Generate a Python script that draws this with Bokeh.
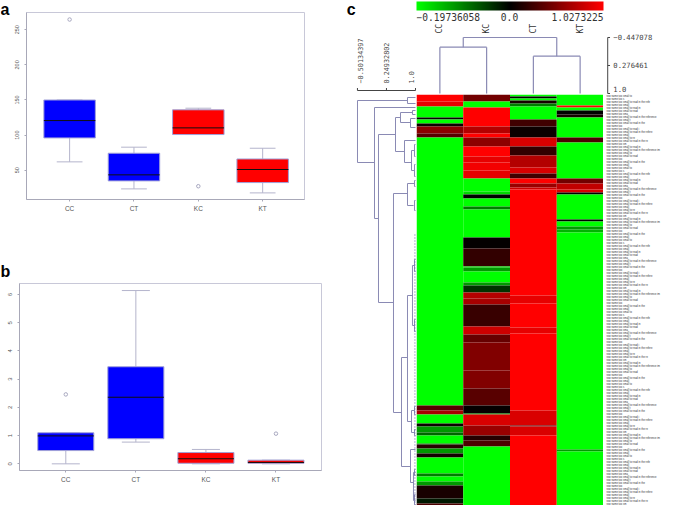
from bokeh.embed import file_html
from bokeh.resources import INLINE
from bokeh.plotting import figure
from bokeh.layouts import row, column
from bokeh.models import Range1d, FixedTicker, LinearColorMapper, ColorBar, Label, ColumnDataSource
from bokeh.core.properties import value
from bokeh.transform import transform

# ---------- panels a and b: box statistics ----------
GROUPS = ["CC", "CT", "KC", "KT"]
GROUP_POS = [1, 2, 3, 4]
GROUP_COLORS = ["#0000ff", "#0000ff", "#ff0000", "#ff0000"]

A_LOW = [61.9, 23.4, 100.8, 17.7]
A_Q1 = [96, 34.8, 100.8, 32.4]
A_MED = [120.7, 43.4, 110.3, 51]
A_Q3 = [150, 74.2, 136, 66]
A_HIGH = [150, 82.8, 138.3, 81.3]
A_OUT_X = [1, 3]
A_OUT_Y = [264.6, 27.2]
A_TICKS = [50, 100, 150, 200, 250]

B_LOW = [0, 0.77, 0, 0]
B_Q1 = [0.47, 0.89, 0.02, 0.02]
B_MED = [0.99, 2.36, 0.18, 0.05]
B_Q3 = [1.10, 3.44, 0.40, 0.13]
B_HIGH = [1.10, 6.14, 0.51, 0.13]
B_OUT_X = [1, 4]
B_OUT_Y = [2.46, 1.07]
B_TICKS = [0, 1, 2, 3, 4, 5, 6]

# ---------- panel c: heat map, colour position -1 (green) .. 0 (black) .. 1 (red) ----------
COLUMNS = ["CC", "KC", "CT", "KT"]
CC_ENDS = [7, 12, 23, 25, 29, 32, 39, 43, 311, 316, 320, 329, 332, 338, 341, 349, 350, 354, 359, 363, 379, 382, 387, 391, 404, 409, 411]
CC_VALS = [1, .9, -1, .02, -1, .05, .55, .35, -1, .35, .65, -1, .05, -.6, -.4, -1, -.5, .15, -.6, .08, -1, -.5, -1, -.6, .1, -.1, .3]
KC_ENDS = [7, 13, 32, 39, 43, 52, 62, 68, 76, 84, 97, 100, 104, 112, 115, 143, 154, 172, 173, 177, 188, 191, 198, 204, 210, 232, 240, 248, 276, 294, 311, 319, 320, 331, 341, 346, 352, 411]
KC_VALS = [.45, -1, 1, .7, 1, .55, 1, .9, .95, .9, -1, -.85, 0, -1, -.5, -1, .02, .2, -1, -.6, -1, -.6, -.2, .7, .65, .22, .8, .4, .5, .5, .35, .02, -.6, .85, .6, .15, .3, -1]
CT_ENDS = [2, 4, 6, 9, 12, 25, 32, 43, 52, 61, 73, 79, 84, 89, 93, 95, 201, 209, 233, 239, 316, 331, 332, 341, 411]
CT_VALS = [-1, 0, -1, .1, -.5, -1, .25, .05, .85, .2, .7, .85, .25, 1, .6, .8, 1, .9, 1, .9, 1, .85, .3, .85, 1]
KT_ENDS = [11, 13, 16, 20, 23, 43, 48, 84, 89, 95, 98, 100, 125, 127, 132, 135, 138, 355, 357, 411]
KT_VALS = [-1, 1, -1, 0, .1, -1, .3, -1, .45, .75, .85, 0, -1, 0, -1, -.6, -.7, -1, -.6, -1]
N_ROWS = 411

SCALE_LABELS = ["\u22120.19736058", "0.0", "1.0273225"]

# column dendrogram
COL_DIST_TICKS = [-0.447078, 0.276461, 1.0]
COL_DIST_LABELS = ["\u22120.447078", "0.276461", "1.0"]
COL_MERGE_D = [-0.447078, -0.197, 0.036]
COL_MERGE_X1 = [1.0, 0.5, 2.5]
COL_MERGE_X2 = [3.0, 1.5, 3.5]
COL_CHILD1_D = [-0.197, 1.0, 1.0]
COL_CHILD2_D = [0.036, 1.0, 1.0]

# row dendrogram: merge distance, rows spanned, distance of each child
ROW_DIST_TICKS = [-0.50134397, 0.24932802, 1.0]
ROW_DIST_LABELS = ["\u22120.50134397", "0.24932802", "1.0"]
ROW_MERGE_D = [-.50, .793, -.06, .043, .483, .612, .922, .871, .716, .897, .431, .793, .638, .793, .922, .897, .871, .948,
               .974, .974, .974, .974, .974, .974, .974, .974, .974, .974]
ROW_MERGE_Y1 = [6, 3, 13, 40, 23, 18, 16, 24, 46, 56, 99, 89, 263, 201, 171, 316, 355, 378,
                50, 70, 86, 106, 165, 225, 312, 335, 375, 400]
ROW_MERGE_Y2 = [68, 9, 124, 208, 57, 28, 20, 33, 68, 76, 318, 111, 372, 327, 231, 338, 388, 406,
                62, 82, 92, 116, 177, 237, 320, 341, 381, 410]
ROW_CHILD1_D = [.793, 1, 1, .483, .612, .922, 1, 1, 1, .97, .793, .97, .793, .922, .97, .974, 1, 1,
                1, 1, 1, 1, 1, 1, 1, 1, 1, 1]
ROW_CHILD2_D = [-.06, 1, .043, .431, .716, .871, 1, 1, .897, .97, .638, .95, .871, .897, .97, .97, .948, 1,
                1, 1, 1, 1, 1, 1, 1, 1, 1, 1]

# the row names of the reference are too small to read: placeholder text of similar length
LABEL_LENGTHS = [22, 14, 38, 18, 30, 26, 16, 44, 20, 34, 12, 28, 40, 18, 24, 36, 15, 30, 46, 21, 27, 13, 33, 19]
N_LABELS = 137

LINE = "#8a8ab4"
WHISKER = "#b4b4cc"
BOX_EDGE = "#a0a0d8"
AXIS = "#a8a8b8"
TEXT = "#555555"
MONO = "DejaVu Sans Mono"
SANS = "Liberation Sans"


def bare(w, h, xr, yr):
    p = figure(width=w, height=h, x_range=xr, y_range=yr, toolbar_location=None, output_backend="svg",
               min_border=0, x_axis_location=None, y_axis_location=None)
    p.frame_align = False
    p.grid.visible = False
    p.outline_line_color = None
    return p


def letter_fig(w, h, letter, base):
    p = bare(w, h, Range1d(0, w), Range1d(h, 0))
    p.text(x=[0], y=[base], text=[letter], text_font=value(SANS), text_font_style="bold", text_font_size="16px",
           text_color="#000000", text_baseline="alphabetic")
    return p


def box_panel(w, h, left, right, top, bottom, x_rng, y_rng, low, q1, med, q3, high, ox, oy, ticks, ysize, stand):
    p = figure(width=w, height=h, x_range=x_rng, y_range=y_rng, toolbar_location=None, output_backend="svg",
               x_axis_location="below", min_border_left=left, min_border_right=right, min_border_top=top, min_border_bottom=bottom)
    p.frame_align = False
    p.grid.visible = False
    p.outline_line_color = "#c8c8d8"
    p.outline_line_width = 1
    p.xaxis.ticker = FixedTicker(ticks=GROUP_POS)
    p.xaxis.major_label_overrides = dict(zip(GROUP_POS, GROUPS))
    p.yaxis.ticker = FixedTicker(ticks=ticks)
    p.yaxis.major_label_orientation = "vertical"
    p.xaxis.minor_tick_line_color = None
    p.yaxis.minor_tick_line_color = None
    for ax in (p.xaxis, p.yaxis):
        ax.axis_line_color = AXIS
        ax.major_tick_line_color = AXIS
        ax.major_tick_out = 2
        ax.major_tick_in = 0
        ax.major_label_text_color = TEXT
        ax.major_label_text_font = SANS
    p.xaxis.major_label_text_font_size = "6.5px"
    p.yaxis.major_label_text_font_size = ysize
    p.xaxis.major_label_standoff = 3
    p.yaxis.major_label_standoff = stand
    hw = 0.4
    capw = 0.2
    xs = GROUP_POS
    p.segment(xs, q3, xs, high, line_color=WHISKER, line_width=1)
    p.segment(xs, low, xs, q1, line_color=WHISKER, line_width=1)
    p.segment([x - capw for x in xs], high, [x + capw for x in xs], high, line_color=WHISKER, line_width=1)
    p.segment([x - capw for x in xs], low, [x + capw for x in xs], low, line_color=WHISKER, line_width=1)
    p.quad(left=[x - hw for x in xs], right=[x + hw for x in xs], bottom=q1, top=q3,
           fill_color=GROUP_COLORS, line_color=BOX_EDGE, line_width=1)
    p.segment([x - hw for x in xs], med, [x + hw for x in xs], med, line_color="#101010", line_width=1)
    p.scatter(ox, oy, size=3.5, marker="circle", fill_color=None, line_color="#a8a8c0", line_width=1)
    return p


pa = box_panel(329, 225, 15, 36, 12, 26, Range1d(0.33, 4.65), Range1d(8.3, 274.6),
               A_LOW, A_Q1, A_MED, A_Q3, A_HIGH, A_OUT_X, A_OUT_Y, A_TICKS, "5.5px", 5)
pb = box_panel(340, 224, 19, 19, 0, 37, Range1d(0.339, 4.65), Range1d(-0.236, 6.39),
               B_LOW, B_Q1, B_MED, B_Q3, B_HIGH, B_OUT_X, B_OUT_Y, B_TICKS, "6px", 5)
panel_a = row(letter_fig(11, 225, "a", 9), pa, spacing=0)
panel_b = column(letter_fig(340, 58, "b", 46), pb, spacing=0)

# ---------- heat map ----------
stops = []
for i in range(128):
    stops.append("#00%02x00" % round(255 * (1 - i / 127)))
for i in range(128):
    stops.append("#%02x0000" % round(255 * i / 127))
mapper = LinearColorMapper(palette=stops, low=-1, high=1)

cell_l, cell_r, cell_t, cell_b, cell_v = [], [], [], [], []
for ci, (ends, vals) in enumerate([(CC_ENDS, CC_VALS), (KC_ENDS, KC_VALS), (CT_ENDS, CT_VALS), (KT_ENDS, KT_VALS)]):
    start = 0
    for e, v in zip(ends, vals):
        cell_l.append(ci)
        cell_r.append(ci + 1)
        cell_t.append(start)
        cell_b.append(e)
        cell_v.append(v)
        start = e
heat_src = ColumnDataSource(dict(l=cell_l, r=cell_r, t=cell_t, b=cell_b, v=cell_v))
heat = bare(187, 411, Range1d(0, 4), Range1d(N_ROWS, 0))
heat.quad(left="l", right="r", top="t", bottom="b", source=heat_src, fill_color=transform("v", mapper), line_color=None)

# ---------- row names ----------
names = []
base = "row name too small to read in the reference image "
for i in range(N_LABELS):
    names.append(base[:LABEL_LENGTHS[i % len(LABEL_LENGTHS)]])
lab = bare(82, 411, Range1d(0, 82), Range1d(N_ROWS, 0))
lab.text(x=[3] * N_LABELS, y=[(i + 0.5) * N_ROWS / N_LABELS for i in range(N_LABELS)], text=names,
         text_font=value(SANS), text_font_size="2.6px", text_color="#333333", text_baseline="middle")

# ---------- top: colour bar, column dendrogram ----------
top = bare(269, 94, Range1d(0, 5.754), Range1d(1.026, -1.403))
cb = ColorBar(color_mapper=mapper, orientation="horizontal", location=(0, 84), width=187, height=9, padding=0, margin=0,
              major_tick_line_color=None, minor_tick_line_color=None, bar_line_color=None, border_line_color=None,
              background_fill_color=None, major_label_text_color=None, major_label_text_font_size="1px",
              ticker=FixedTicker(ticks=[]))
top.add_layout(cb, "center")
for txt, sx, al in zip(SCALE_LABELS, [0, 93, 187], ["left", "center", "right"]):
    top.add_layout(Label(x=sx, y=74, x_units="screen", y_units="screen", text=txt, text_font=MONO, text_font_size="9.6px",
                         text_color="#333333", text_align=al, text_baseline="bottom"))
top.text(x=[i + 0.5 for i in range(4)], y=[-0.55] * 4, text=COLUMNS, angle=1.5708, text_font=value(MONO),
         text_font_size="8px", text_color="#333333", text_align="left", text_baseline="middle")
top.segment(COL_MERGE_X1, COL_MERGE_D, COL_MERGE_X2, COL_MERGE_D, line_color=LINE, line_width=1.2)
top.segment(COL_MERGE_X1, COL_MERGE_D, COL_MERGE_X1, COL_CHILD1_D, line_color=LINE, line_width=1.2)
top.segment(COL_MERGE_X2, COL_MERGE_D, COL_MERGE_X2, COL_CHILD2_D, line_color=LINE, line_width=1.2)
ax_x = 4.09
top.segment([ax_x], [COL_DIST_TICKS[0]], [ax_x], [COL_DIST_TICKS[-1]], line_color="#444444", line_width=1)
top.segment([ax_x] * 3, COL_DIST_TICKS, [ax_x + 0.05] * 3, COL_DIST_TICKS, line_color="#444444", line_width=1)
top.text(x=[ax_x + 0.12] * 3, y=[COL_DIST_TICKS[0], COL_DIST_TICKS[1], COL_DIST_TICKS[2] - 0.12], text=COL_DIST_LABELS,
         text_font=value(MONO), text_font_size="7.2px", text_color="#444444", text_baseline="middle")

# ---------- row dendrogram and its scale ----------
dend = bare(76, 505, Range1d(-0.9395, 1.026), Range1d(N_ROWS, -94))
dend.segment(ROW_MERGE_D, ROW_MERGE_Y1, ROW_MERGE_D, ROW_MERGE_Y2, line_color=LINE, line_width=1)
dend.segment(ROW_MERGE_D, ROW_MERGE_Y1, ROW_CHILD1_D, ROW_MERGE_Y1, line_color=LINE, line_width=1)
dend.segment(ROW_MERGE_D, ROW_MERGE_Y2, ROW_CHILD2_D, ROW_MERGE_Y2, line_color=LINE, line_width=1)
dend.segment([0.985], [140], [0.985], [N_ROWS], line_color="#6060a0", line_width=1, line_dash="1 2")
dend.segment([ROW_DIST_TICKS[0]], [-4], [ROW_DIST_TICKS[-1]], [-4], line_color="#444444", line_width=1)
dend.segment(ROW_DIST_TICKS, [-4] * 3, ROW_DIST_TICKS, [-6.5] * 3, line_color="#444444", line_width=1)
dend.text(x=[ROW_DIST_TICKS[0] + 0.07, ROW_DIST_TICKS[1], ROW_DIST_TICKS[2] - 0.1], y=[-11] * 3, text=ROW_DIST_LABELS,
          angle=1.5708, text_font=value(MONO), text_font_size="6.8px", text_color="#444444",
          text_baseline="middle", text_align="left")
dend.text(x=[-0.78], y=[-85], text=["c"], text_font=value(SANS), text_font_style="bold", text_font_size="16px",
          text_color="#000000", text_baseline="alphabetic")

page = row(column(panel_a, panel_b, spacing=0), dend, column(top, row(heat, lab, spacing=0), spacing=0), spacing=0,
           styles={"position": "absolute", "left": "0px", "top": "0px"})

open("out.html", "w").write(file_html(page, INLINE))
